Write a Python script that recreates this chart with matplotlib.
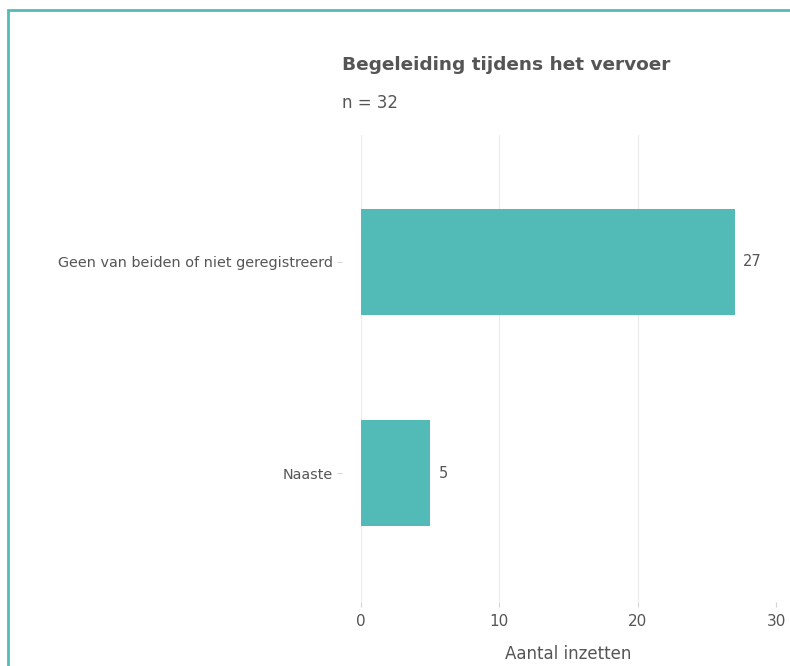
import matplotlib
matplotlib.use("Agg")
import matplotlib.pyplot as plt
from matplotlib.patches import Rectangle

categories = ["Geen van beiden of niet geregistreerd", "Naaste"]
values = [27, 5]
xticks = [0, 10, 20, 30]
title = "Begeleiding tijdens het vervoer"
subtitle = "n = 32"
xlabel = "Aantal inzetten"

teal = "#52BBB8"
txt = "#555555"

W, H = 790, 666
fig = plt.figure(figsize=(W / 100, H / 100), dpi=100)
fig.patch.set_facecolor("white")

# border (cut off at right and bottom)
fig.add_artist(Rectangle((7.5 / W, -0.1), 1.2, 1 - 10.5 / H + 0.1,
                         transform=fig.transFigure, fill=False,
                         edgecolor=teal, linewidth=2, clip_on=False))

ax = fig.add_axes([361 / W, 1 - 602 / H, (776 - 361) / W, (602 - 135) / H])
pos = list(range(len(categories)))
ax.barh(pos, values, height=0.5, color=teal, zorder=3)
ax.set_ylim(1.61, -0.6)
ax.set_xlim(0, 30)
ax.set_xticks(xticks)
ax.set_yticks(pos)
ax.set_yticklabels(categories)
for s in ax.spines.values():
    s.set_visible(False)
ax.spines["left"].set_position(("outward", 13.7))
ax.grid(axis="x", color="#ebebeb", linewidth=0.8, zorder=0)
ax.tick_params(axis="x", length=3.5, color="#d5d5d5", labelsize=11, labelcolor=txt, pad=5)
ax.tick_params(axis="y", length=3.6, color="#d5d5d5", labelsize=10.4, labelcolor=txt, pad=3)

for p, v in zip(pos, values):
    ax.annotate(str(v), (v, p), xytext=(6, 0), textcoords="offset points",
                va="center", ha="left", fontsize=10.5, color=txt)

ax.set_xlabel(xlabel, fontsize=12, color=txt, labelpad=12)

fig.text(342 / W, 1 - 65 / H, title, fontsize=13.3, fontweight="bold", color=txt, va="center", ha="left")
fig.text(342 / W, 1 - 103 / H, subtitle, fontsize=11.9, color=txt, va="center", ha="left")

fig.savefig("out.png", dpi=100)
